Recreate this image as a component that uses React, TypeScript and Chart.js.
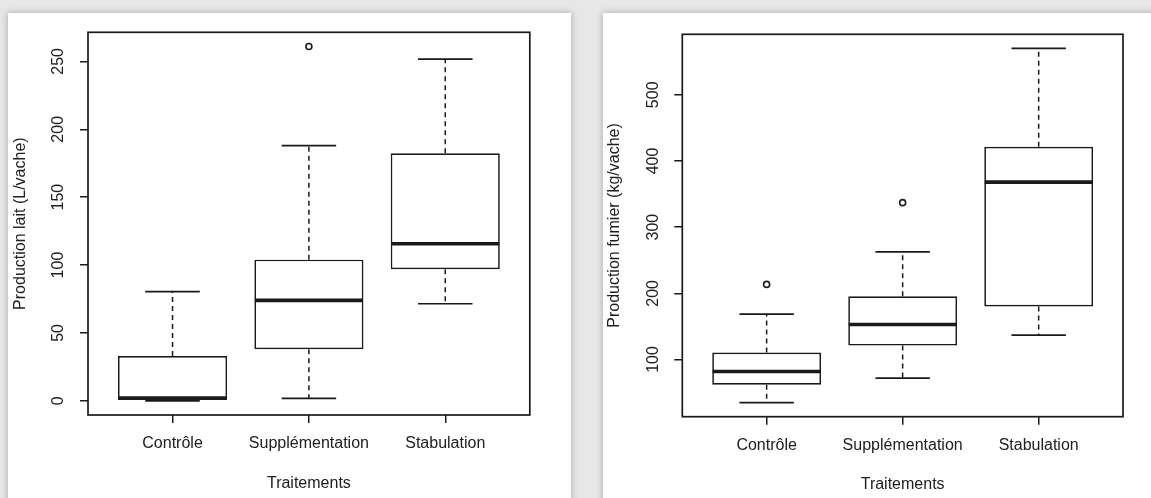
import React, { useEffect, useRef } from "react";
import { Chart, registerables } from "chart.js";

Chart.register(...registerables);

// ---------- data ----------
const categories = ["Contrôle", "Supplémentation", "Stabulation"];

const laitMin = [0, 1.8, 71.5];
const laitQ1 = [0, 38, 97];
const laitMedian = [2, 74, 115.7];
const laitQ3 = [33, 104, 182.3];
const laitMax = [80.4, 188, 251.7];
const laitOutliers = [[], [261], []];
const laitTicks = [0, 50, 100, 150, 200, 250];

const fumierMin = [35, 72, 137];
const fumierQ1 = [62, 121, 180];
const fumierMedian = [82, 153, 368];
const fumierQ3 = [110.5, 195.5, 421.5];
const fumierMax = [168.5, 262.5, 570];
const fumierOutliers = [[213.5], [337], []];
const fumierTicks = [100, 200, 300, 400, 500];

const xTitle = "Traitements";
const laitTitle = "Production lait (L/vache)";
const fumierTitle = "Production fumier (kg/vache)";

// ---------- style ----------
const FONT = "'Liberation Sans', Arial, Helvetica, sans-serif";
const FS = 16;
const INK = "#1a1a1a";
const TEXT = "#202020";

type Stats = {
  min: number[];
  q1: number[];
  median: number[];
  q3: number[];
  max: number[];
  outliers: number[][];
};

type Layout = {
  width: number;
  height: number;
  padTop: number;
  padRight: number;
  yWidth: number;
  xHeight: number;
  yLabelOffset: number;
  yTitlePad: number;
  xTickPad: number;
  xTitlePad: number;
};

function BoxChart({
  stats,
  yTicks,
  yTitle,
  layout,
}: {
  stats: Stats;
  yTicks: number[];
  yTitle: string;
  layout: Layout;
}) {
  const ref = useRef<HTMLCanvasElement | null>(null);

  useEffect(() => {
    if (!ref.current) return;
    const all: number[] = [];
    stats.min.forEach((v) => all.push(v));
    stats.max.forEach((v) => all.push(v));
    stats.outliers.forEach((o) => o.forEach((v) => all.push(v)));
    const lo = Math.min(...all);
    const hi = Math.max(...all);
    const ext = (hi - lo) * 0.04;
    const n = categories.length;
    const xExt = n * 0.04;

    const plugin = {
      id: "boxWhiskers",
      afterDatasetsDraw(chart: any) {
        const { ctx, chartArea } = chart;
        const ys = chart.scales.y;
        const meta = chart.getDatasetMeta(0);
        const line = (x1: number, y1: number, x2: number, y2: number) => {
          ctx.beginPath();
          ctx.moveTo(x1, y1);
          ctx.lineTo(x2, y2);
          ctx.stroke();
        };
        ctx.save();
        ctx.strokeStyle = INK;
        meta.data.forEach((bar: any, i: number) => {
          const p = bar.getProps(["x", "width"], true);
          const cx = p.x;
          const w = p.width;
          const yMin = ys.getPixelForValue(stats.min[i]);
          const yQ1 = ys.getPixelForValue(stats.q1[i]);
          const yMed = ys.getPixelForValue(stats.median[i]);
          const yQ3 = ys.getPixelForValue(stats.q3[i]);
          const yMax = ys.getPixelForValue(stats.max[i]);
          ctx.lineWidth = 1.5;
          ctx.setLineDash([5, 4]);
          if (yQ3 - yMax > 1) line(cx, yQ3, cx, yMax);
          if (yMin - yQ1 > 1) line(cx, yQ1, cx, yMin);
          ctx.setLineDash([]);
          ctx.lineWidth = 1.7;
          line(cx - w / 4, yMax, cx + w / 4, yMax);
          line(cx - w / 4, yMin, cx + w / 4, yMin);
          ctx.lineWidth = 3.6;
          line(cx - w / 2 + 0.5, yMed, cx + w / 2 - 0.5, yMed);
        });
        // plot frame
        ctx.lineWidth = 1.7;
        ctx.strokeRect(chartArea.left, chartArea.top, chartArea.width, chartArea.height);
        // rotated y tick labels (R style)
        ctx.fillStyle = TEXT;
        ctx.font = `${FS}px ${FONT}`;
        ctx.textAlign = "center";
        ctx.textBaseline = "middle";
        ys.ticks.forEach((t: any) => {
          const py = ys.getPixelForValue(t.value);
          ctx.save();
          ctx.translate(chartArea.left - layout.yLabelOffset, py);
          ctx.rotate(-Math.PI / 2);
          ctx.fillText(String(t.value), 0, 0);
          ctx.restore();
        });
        ctx.restore();
      },
    };

    const boxData = categories.map((c, i) => ({ x: i + 1, y: [stats.q1[i], stats.q3[i]] }));
    const outData: { x: number; y: number }[] = [];
    stats.outliers.forEach((o, i) => o.forEach((v) => outData.push({ x: i + 1, y: v })));

    const chart = new Chart(ref.current, {
      type: "bar",
      data: {
        datasets: [
          {
            type: "bar",
            data: boxData as any,
            backgroundColor: "#ffffff",
            borderColor: INK,
            borderWidth: 1.7,
            borderSkipped: false,
            barPercentage: 1,
            categoryPercentage: 0.8,
          } as any,
          {
            type: "scatter",
            data: outData,
            pointStyle: "circle",
            pointRadius: 3,
            pointBorderWidth: 1.6,
            pointBorderColor: INK,
            pointBackgroundColor: "rgba(0,0,0,0)",
          } as any,
        ],
      },
      options: {
        animation: false,
        responsive: false,
        maintainAspectRatio: false,
        events: [],
        layout: {
          padding: { top: layout.padTop, right: layout.padRight, left: 0, bottom: 0 },
        },
        plugins: {
          legend: { display: false },
          tooltip: { enabled: false },
        },
        scales: {
          x: {
            type: "linear",
            offset: false,
            min: 0.5 - xExt,
            max: n + 0.5 + xExt,
            afterBuildTicks: (s: any) => {
              s.ticks = categories.map((c, i) => ({ value: i + 1 }));
            },
            afterFit: (s: any) => {
              s.height = layout.xHeight;
            },
            ticks: {
              autoSkip: false,
              maxRotation: 0,
              minRotation: 0,
              padding: layout.xTickPad,
              color: TEXT,
              font: { family: FONT, size: FS },
              callback: (v: any) => categories[Math.round(Number(v)) - 1] ?? "",
            },
            grid: {
              offset: false,
              drawOnChartArea: false,
              drawTicks: true,
              tickLength: 8,
              color: INK,
              lineWidth: 1.5,
            },
            border: { display: false },
            title: {
              display: true,
              text: xTitle,
              color: TEXT,
              font: { family: FONT, size: FS },
              padding: { top: 0, bottom: layout.xTitlePad },
            },
          },
          y: {
            type: "linear",
            min: lo - ext,
            max: hi + ext,
            afterBuildTicks: (s: any) => {
              s.ticks = yTicks.map((v) => ({ value: v }));
            },
            afterFit: (s: any) => {
              s.width = layout.yWidth;
            },
            ticks: { display: false },
            grid: {
              drawOnChartArea: false,
              drawTicks: true,
              tickLength: 8,
              color: INK,
              lineWidth: 1.5,
            },
            border: { display: false },
            title: {
              display: true,
              text: yTitle,
              color: TEXT,
              font: { family: FONT, size: FS },
              padding: { top: layout.yTitlePad, bottom: 0 },
            },
          },
        },
      } as any,
      plugins: [plugin as any],
    });
    return () => chart.destroy();
  }, []);

  return <canvas ref={ref} width={layout.width} height={layout.height} style={{ display: "block" }} />;
}

const leftLayout: Layout = {
  width: 563,
  height: 485,
  padTop: 19.3,
  padRight: 41.2,
  yWidth: 80,
  xHeight: 83,
  yLabelOffset: 29,
  yTitlePad: 2.7,
  xTickPad: 11.4,
  xTitlePad: 5.1,
};

const rightLayout: Layout = {
  width: 548,
  height: 485,
  padTop: 21.3,
  padRight: 28,
  yWidth: 79.3,
  xHeight: 81.3,
  yLabelOffset: 28.3,
  yTitlePad: 2.4,
  xTickPad: 11.7,
  xTitlePad: 3.4,
};

export default function App() {
  const panel: React.CSSProperties = {
    position: "absolute",
    top: 13,
    height: 500,
    background: "#ffffff",
    boxShadow: "0 0 7px rgba(0,0,0,0.28)",
  };
  return (
    <div
      style={{
        position: "absolute",
        left: 0,
        top: 0,
        width: 1151,
        height: 498,
        overflow: "hidden",
        background: "#e7e7e7",
      }}
    >
      <div style={{ ...panel, left: 8, width: 563 }}>
        <BoxChart
          stats={{ min: laitMin, q1: laitQ1, median: laitMedian, q3: laitQ3, max: laitMax, outliers: laitOutliers }}
          yTicks={laitTicks}
          yTitle={laitTitle}
          layout={leftLayout}
        />
      </div>
      <div style={{ ...panel, left: 603, width: 560 }}>
        <BoxChart
          stats={{
            min: fumierMin,
            q1: fumierQ1,
            median: fumierMedian,
            q3: fumierQ3,
            max: fumierMax,
            outliers: fumierOutliers,
          }}
          yTicks={fumierTicks}
          yTitle={fumierTitle}
          layout={rightLayout}
        />
      </div>
    </div>
  );
}
